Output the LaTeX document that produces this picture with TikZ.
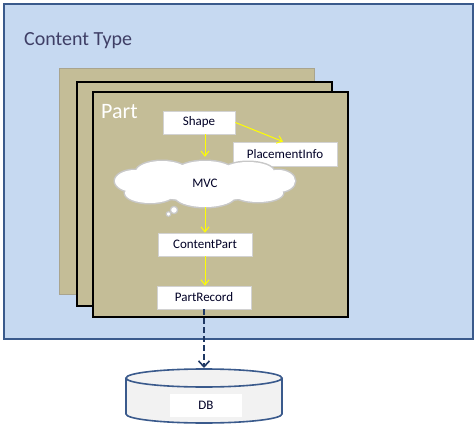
\documentclass[tikz,border=0pt]{standalone}
\usepackage{fontspec}
\setmainfont{Carlito}
\usetikzlibrary{arrows.meta}
\definecolor{ctblue}{HTML}{C6D9F1}
\definecolor{ctborder}{HTML}{3A5A8C}
\definecolor{tan}{HTML}{C4BD97}
\definecolor{navy}{HTML}{1F3864}
\definecolor{ctext}{HTML}{3F3F66}
\definecolor{yarrow}{HTML}{FFFF00}
\definecolor{cloudline}{HTML}{C8C8C8}
\tikzset{
  x=1pt,y=-1pt,
  partbox/.style={draw=black, line width=1.4pt, fill=tan, minimum width=255pt, inner sep=0pt},
  wbox/.style={draw=gray!35, line width=0.8pt, fill=white, inner sep=0pt, font=\fontsize{13}{15}\selectfont, text=black!85!blue},
  yarr/.style={draw=yarrow, line width=1pt, -{Straight Barb[length=5pt,width=8pt]}},
}
\begin{document}
\begin{tikzpicture}
\useasboundingbox (0,0) rectangle (475,426);
% outer content type box
\node[draw=ctborder, line width=2pt, fill=ctblue, minimum width=469pt, minimum height=335pt, inner sep=0pt] (ct) at (238.5,171.5) {};
\node[anchor=base west, inner sep=0pt, font=\fontsize{20}{24}\selectfont, text=ctext] (ctlabel) at (24,45) {Content Type};
% stacked parts
\node[draw=gray!40!tan, line width=0.6pt, fill=tan, minimum width=255pt, minimum height=226pt, inner sep=0pt] (p1) at (186.5,181) {};
\node[partbox, minimum height=224pt] (p2) at (204.5,194) {};
\node[partbox, minimum height=225pt] (p3) at (220.5,204.5) {};
\node[anchor=base west, inner sep=0pt, font=\fontsize{22}{26}\selectfont, text=white] (partlabel) at (101,118) {Part};
% inner items
\node[wbox, minimum width=72pt, minimum height=23pt] (shape) at (199,122.5) {Shape};
\node[wbox, minimum width=104pt, minimum height=24pt] (pi) at (285,154) {PlacementInfo};
% cloud (union of ellipses: outline pass, then fill pass)
\def\puffs{205/183/70/18, 135/181/20/11, 278/181/17/11, 162/172/26/11, 205/171/28/10, 248/172/26/10, 150/193/25/10, 205/196/30/11, 258/193/25/9}
\foreach \cx/\cy/\rx/\ry in \puffs {\draw[cloudline, line width=3pt] (\cx,\cy) ellipse[x radius=\rx, y radius=\ry];}
\foreach \cx/\cy/\rx/\ry in \puffs {\fill[white] (\cx,\cy) ellipse[x radius=\rx, y radius=\ry];}
\draw[cloudline, line width=1.3pt, fill=white] (174,210) circle[radius=3.6pt];
\draw[cloudline, line width=1.1pt, fill=white] (168.5,214) circle[radius=2.3pt];
\node[minimum width=180pt, minimum height=46pt, inner sep=0pt, font=\fontsize{13}{15}\selectfont, text=black!85!blue] (mvc) at (205,183) {MVC};
\node[wbox, minimum width=94pt, minimum height=23pt] (cp) at (205,244.5) {ContentPart};
\node[wbox, minimum width=94pt, minimum height=23pt] (pr) at (204,297.5) {PartRecord};
% yellow arrows
\draw[yarr] (shape.south -| mvc.north) -- ([yshift=3]mvc.north);
\draw[yarr] (shape.east) -- ([xshift=-2]pi.north);
\draw[yarr] ([yshift=-1]mvc.south) -- (cp.north);
\draw[yarr] (cp.south) -- (cp.south |- pr.north);
% DB cylinder
\path[draw=ctborder, line width=1.6pt, fill=gray!10] (126,378) -- (126,414) arc[start angle=180, end angle=0, x radius=78, y radius=9] -- (282,378);
\draw[ctborder, line width=1.6pt, fill=gray!10] (204,378) ellipse[x radius=78, y radius=9];
\coordinate (dbtop) at (204,368);
\node[fill=white, minimum width=72pt, minimum height=23pt, inner sep=0pt, font=\fontsize{13}{15}\selectfont, text=black!85!blue] (db) at (206,405.5) {DB};
% dashed arrow
\draw[navy, line width=2.2pt, dash pattern=on 6pt off 3pt, -{Straight Barb[length=6pt,width=11pt,line width=1.6pt]}] (pr.south) -- (dbtop);
\end{tikzpicture}
\end{document}
